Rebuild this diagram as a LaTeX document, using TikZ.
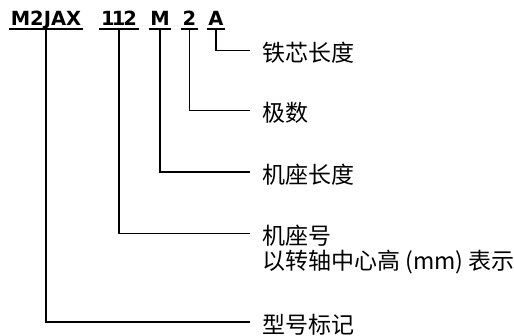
\documentclass[tikz,border=0pt]{standalone}
\usepackage{fontspec}
\newfontfamily\cjk{Noto Sans CJK SC}
\newfontfamily\labfont{DejaVu Sans}
\begin{document}
\begin{tikzpicture}[x=1pt,y=-1pt,
  code/.style={font=\labfont\bfseries\fontsize{19.5}{22}\selectfont, inner xsep=1.5pt, inner ysep=0pt, anchor=base},
  desc/.style={font=\cjk\fontsize{23}{27}\selectfont, inner sep=0pt, anchor=west},
  lead/.style={line width=1.4pt},
  uline/.style={line width=2pt}]
\useasboundingbox (0,0) rectangle (514,336);
% codes
\node[code] (c1) at (46,26) {M2JAX};
\node[code] (c2) at (119,26) {1\kern-2.8pt1\kern-2.2pt2};
\node[code] (c3) at (160,26) {M};
\node[code] (c4) at (189.5,26) {2};
\node[code] (c5) at (216,26) {A};
\foreach \n in {c1,c2,c3,c4,c5}
  \draw[uline] ([yshift=-3pt]\n.base west) -- ([yshift=-3pt]\n.base east);
\foreach \n in {c1,c2,c3,c4,c5}
  \coordinate (\n u) at ([yshift=-3pt]\n.base);
% descriptions
\node[desc] (t5) at (262,53) {铁芯长度};
\node[desc] (t4) at (262,113) {极数};
\node[desc] (t3) at (262,174.5) {机座长度};
\node[desc] (t2) at (262,236) {机座号};
\node[desc] (t2b) at (262,262) {以转轴中心高 (mm) 表示};
\node[desc] (t1) at (262,324.5) {型号标记};
% leaders
\foreach \a/\b in {c5u/t5,c4u/t4,c3u/t3,c2u/t2,c1u/t1}
  \draw[lead] (\a) |- ([xshift=-12pt,yshift=2.5pt]\b.west);
\end{tikzpicture}
\end{document}
